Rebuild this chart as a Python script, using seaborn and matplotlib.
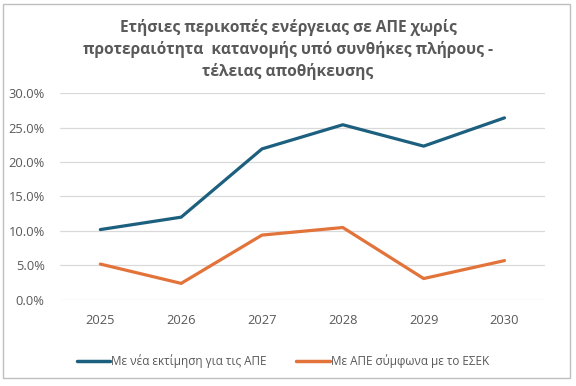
import matplotlib
matplotlib.use("Agg")
import matplotlib.pyplot as plt
import seaborn as sns
import pandas as pd
from matplotlib.patches import Rectangle
from matplotlib.ticker import FuncFormatter

years = ["2025", "2026", "2027", "2028", "2029", "2030"]
new_estimate = [10.2, 12.0, 21.9, 25.4, 22.3, 26.4]
esek = [5.2, 2.4, 9.4, 10.5, 3.1, 5.7]
series_names = ["Με νέα εκτίμηση για τις ΑΠΕ", "Με ΑΠΕ σύμφωνα με το ΕΣΕΚ"]
title = "Ετήσιες περικοπές ενέργειας σε ΑΠΕ χωρίς\nπροτεραιότητα  κατανομής υπό συνθήκες πλήρους -\nτέλειας αποθήκευσης"

df = pd.DataFrame({
    "year": years * 2,
    "value": new_estimate + esek,
    "series": [series_names[0]] * len(years) + [series_names[1]] * len(years),
})

sns.set_theme(style="white")
plt.rcParams['font.family'] = ['Open Sans', 'DejaVu Sans']

fig = plt.figure(figsize=(5.76, 3.86), dpi=100)
ax = fig.add_axes([0.104, 0.223, 0.842, 0.536])

palette = {series_names[0]: "#1D5F7E", series_names[1]: "#E2733A"}
sns.lineplot(data=df, x="year", y="value", hue="series", palette=palette,
             linewidth=2.3, ax=ax, sort=False)

ax.set_xlim(-0.5, 5.5)
ax.set_ylim(0, 30)
ax.set_yticks([0, 5, 10, 15, 20, 25, 30])
ax.yaxis.set_major_formatter(FuncFormatter(lambda v, p: f"{v:.1f}%"))
ax.grid(axis="y", color="#D9D9D9", linewidth=0.9)
ax.set_axisbelow(True)
for s in ax.spines.values():
    s.set_visible(False)
ax.set_xlabel("")
ax.set_ylabel("")
ax.tick_params(axis="both", length=0, labelsize=9.3, labelcolor="#595959")
ax.tick_params(axis="y", pad=11)
ax.tick_params(axis="x", pad=10)

leg = ax.legend(loc="upper center", bbox_to_anchor=(0.46, -0.21), ncol=2,
                frameon=False, fontsize=8.5, handlelength=2.8, handletextpad=0.1,
                columnspacing=2.5, labelcolor="#595959")
for line in leg.get_lines():
    line.set_linewidth(2.5)

fig.text(0.5, 0.952, title, ha="center", va="top", fontsize=11.2,
         fontweight="bold", color="#595959", linespacing=1.42)

fig.patches.append(Rectangle((0.005, 0.02), 0.985, 0.97, transform=fig.transFigure,
                             fill=False, edgecolor="#BFBFBF", linewidth=1.0))

fig.savefig("out.png", dpi=100)
